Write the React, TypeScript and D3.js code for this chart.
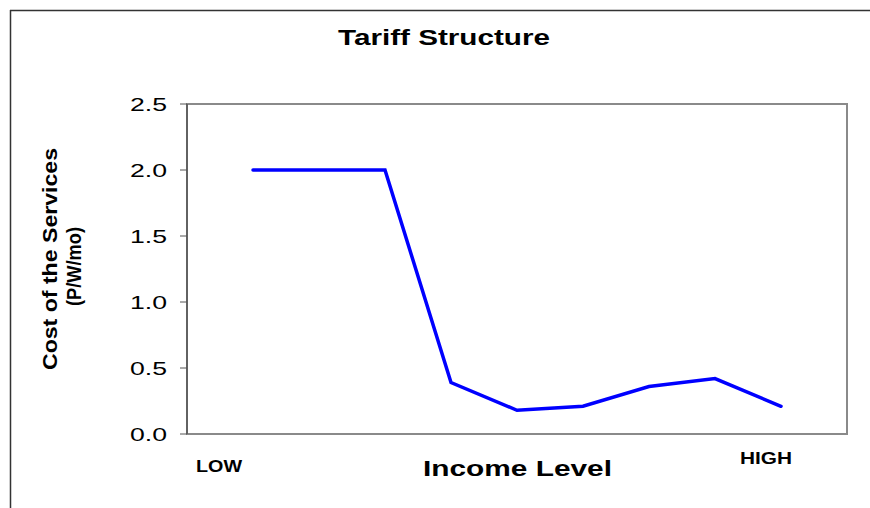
import React from "react";
import * as d3 from "d3";

const categories = [1, 2, 3, 4, 5, 6, 7, 8, 9];
const values = [2.0, 2.0, 2.0, 0.39, 0.18, 0.21, 0.36, 0.42, 0.21];
const yTicks = [0, 0.5, 1.0, 1.5, 2.0, 2.5];

export default function App() {
  const W = 870, H = 508;
  const left = 187, right = 847, top = 104, bottom = 434;
  const x = d3.scaleLinear().domain([0, 10]).range([left, right]);
  const y = d3.scaleLinear().domain([0, 2.5]).range([bottom, top]);
  const line = d3.line<number>().x((_, i) => x(categories[i])).y((d) => y(d));
  const font = "'Liberation Sans', Arial, sans-serif";
  return (
    <svg width={W} height={H} style={{ position: "absolute", left: 0, top: 0 }} fontFamily={font}>
      <rect x={0} y={0} width={W} height={H} fill="#fff" />
      <line x1={10.5} y1={10} x2={10.5} y2={H} stroke="#333" strokeWidth={1.5} />
      <line x1={10} y1={10.5} x2={W} y2={10.5} stroke="#333" strokeWidth={1.5} />
      <text x={338} y={45} fontSize={22} fontWeight="bold" textLength={212} lengthAdjust="spacingAndGlyphs">Tariff Structure</text>
      <rect x={left} y={top} width={right - left} height={bottom - top} fill="none" stroke="#8a8a8a" strokeWidth={2} />
      {yTicks.map((t) => (
        <g key={t}>
          <line x1={180} x2={left} y1={y(t)} y2={y(t)} stroke="#555" strokeWidth={1} />
          <text x={130} y={y(t) + 7} fontSize={19} textLength={37} lengthAdjust="spacingAndGlyphs">{t.toFixed(1)}</text>
        </g>
      ))}
      <line x1={left} x2={left} y1={top} y2={bottom} stroke="#555" strokeWidth={1.5} />
      <path d={line(values) || ""} fill="none" stroke="#0000ff" strokeWidth={3.5} strokeLinejoin="miter" strokeLinecap="round" />
      <g transform="rotate(-90)">
        <text x={-370} y={57} fontSize={20} fontWeight="bold" textLength={222} lengthAdjust="spacingAndGlyphs">Cost of the Services</text>
        <text x={-306} y={81} fontSize={20} fontWeight="bold" textLength={79} lengthAdjust="spacingAndGlyphs">(P/W/mo)</text>
      </g>
      <text x={196} y={471.5} fontSize={16} fontWeight="bold" textLength={46} lengthAdjust="spacingAndGlyphs">LOW</text>
      <text x={423} y={475.5} fontSize={22} fontWeight="bold" textLength={189} lengthAdjust="spacingAndGlyphs">Income Level</text>
      <text x={740} y={464} fontSize={16} fontWeight="bold" textLength={52} lengthAdjust="spacingAndGlyphs">HIGH</text>
    </svg>
  );
}
